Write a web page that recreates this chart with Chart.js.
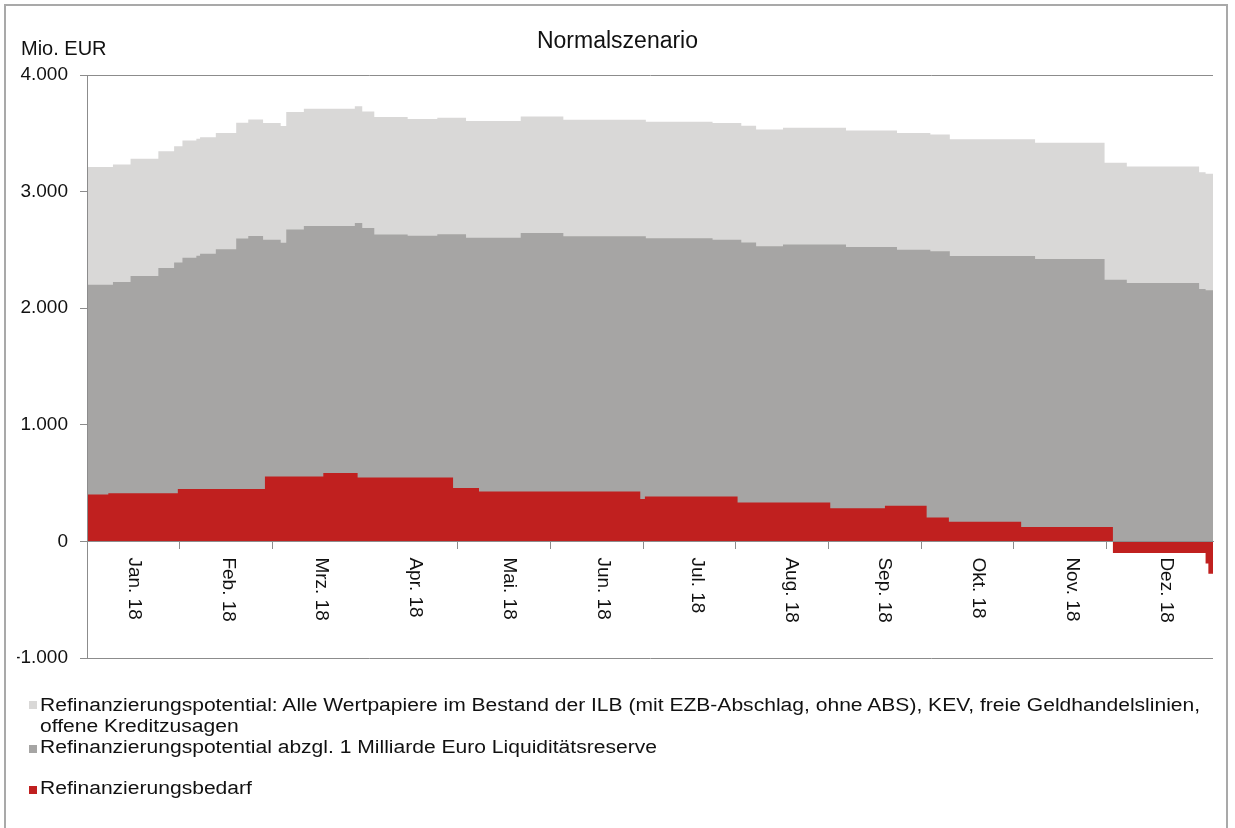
<!DOCTYPE html>
<html lang="de">
<head>
<meta charset="utf-8">
<title>Normalszenario</title>
<script src="https://cdn.jsdelivr.net/npm/chart.js"></script>
<style>
  body { margin: 0; background: #fff; font-family: "Liberation Sans", Arial, sans-serif; color: #111; }
  #wrap { position: relative; width: 1235px; height: 828px; overflow: hidden; background: #fff; }
  #frame { position: absolute; left: 4px; top: 4px; width: 1220px; height: 900px; border: 2px solid #a9a9a9; }
  #chart { position: absolute; left: 0; top: 0; }
  .title { position: absolute; left: 0; top: 29px; width: 1235px; text-align: center; font-size: 23px; line-height: 23px; }
  .unit { position: absolute; left: 21px; top: 38px; font-size: 20px; line-height: 20px; }
  .legend-item { position: absolute; left: 40px; font-size: 18px; line-height: 21px; white-space: nowrap;
                 transform: scaleX(1.17); transform-origin: 0 0; }
  .swatch { position: absolute; left: 29px; width: 8px; height: 8px; }
</style>
</head>
<body>
<div id="wrap">
  <div id="frame"></div>
  <canvas id="chart" width="1235" height="828"></canvas>
  <div class="title">Normalszenario</div>
  <div class="unit">Mio. EUR</div>

  <div class="swatch" style="top:701px;background:#d9d8d7"></div>
  <div class="legend-item" style="top:695px">Refinanzierungspotential: Alle Wertpapiere im Bestand der ILB (mit EZB-Abschlag, ohne ABS), KEV, freie Geldhandelslinien,<br>offene Kreditzusagen</div>
  <div class="swatch" style="top:745px;background:#a6a5a4"></div>
  <div class="legend-item" style="top:737px">Refinanzierungspotential abzgl. 1 Milliarde Euro Liquiditätsreserve</div>
  <div class="swatch" style="top:786px;background:#c0201f"></div>
  <div class="legend-item" style="top:778px">Refinanzierungsbedarf</div>
</div>

<script>
// Monatsachse
const months = ['Jan. 18', 'Feb. 18', 'Mrz. 18', 'Apr. 18', 'Mai. 18', 'Jun. 18',
                'Jul. 18', 'Aug. 18', 'Sep. 18', 'Okt. 18', 'Nov. 18', 'Dez. 18'];
const monthTicks = [1, 2, 4, 5, 6, 7, 8, 9, 10, 11, 12];

// Stützstellen in Monaten ab 1. Januar (Treppenverlauf)
const potentialX = [0.00, 0.28, 0.47, 0.77, 0.94, 1.03, 1.18, 1.22, 1.39, 1.61, 1.74, 1.90,
                    2.09, 2.15, 2.34, 2.89, 2.97, 3.10, 3.46, 3.78, 4.09, 4.68, 5.14, 6.03,
                    6.75, 7.06, 7.22, 7.51, 8.19, 8.74, 9.10, 9.31, 10.23, 10.98, 11.22, 12.00,
                    12.07, 12.15];
// Refinanzierungspotential gesamt
const potentialY = [3210, 3233, 3282, 3345, 3390, 3439, 3454, 3467, 3502, 3590, 3619, 3588,
                    3562, 3682, 3711, 3731, 3688, 3639, 3622, 3634, 3605, 3645, 3617, 3600,
                    3588, 3565, 3533, 3548, 3525, 3502, 3490, 3448, 3419, 3248, 3216, 3167,
                    3153, 3153];
// abzgl. Liquiditätsreserve
const reserveY = [2201, 2224, 2276, 2344, 2392, 2433, 2450, 2467, 2505, 2598, 2619, 2588,
                  2562, 2676, 2706, 2730, 2688, 2633, 2622, 2634, 2605, 2645, 2617, 2599,
                  2586, 2564, 2532, 2547, 2525, 2501, 2489, 2447, 2422, 2245, 2216, 2165,
                  2153, 2153];

// Refinanzierungsbedarf
const bedarfX = [0.00, 0.23, 0.98, 1.92, 2.55, 2.92, 3.95, 4.23, 5.97, 6.02, 7.02, 8.02,
                 8.61, 9.06, 9.30, 10.08, 11.07, 12.07, 12.10, 12.15];
const bedarfY = [403, 414, 449, 557, 586, 549, 457, 429, 363, 386, 334, 284,
                 306, 206, 169, 123, -100, -190, -277, -277];

const FONT = '"Liberation Sans", Arial, sans-serif';
const AXIS = '#8c8c8c';

function toPoints(xs, ys) {
  return xs.map((x, i) => ({ x: x, y: ys[i] }));
}

// deutsches Tausendertrennzeichen
function fmt(v) {
  const s = String(Math.abs(v)).replace(/\B(?=(\d{3})+(?!\d))/g, '.');
  return v < 0 ? '-' + s : s;
}

// Monatsnamen senkrecht unter der Nulllinie
const monthLabels = {
  id: 'monthLabels',
  afterDraw(chart) {
    const scale = chart.scales.xm;
    const y0 = chart.scales.y.getPixelForValue(0);
    const ctx = chart.ctx;
    ctx.save();
    ctx.font = '19px ' + FONT;
    ctx.fillStyle = '#111';
    ctx.textAlign = 'left';
    ctx.textBaseline = 'middle';
    months.forEach((m, i) => {
      ctx.save();
      ctx.translate(scale.getPixelForValue(i), y0 + 16);
      ctx.rotate(Math.PI / 2);
      ctx.fillText(m, 0, 0);
      ctx.restore();
    });
    ctx.restore();
  }
};

const ctx = document.getElementById('chart').getContext('2d');
new Chart(ctx, {
  type: 'line',
  data: {
    datasets: [
      {
        label: 'Refinanzierungsbedarf',
        data: toPoints(bedarfX, bedarfY),
        backgroundColor: '#c0201f',
        borderColor: 'rgba(0,0,0,0)',
        borderWidth: 0,
        fill: 'origin',
        stepped: true,
        pointRadius: 0,
        order: 1
      },
      {
        label: 'Refinanzierungspotential abzgl. 1 Milliarde Euro Liquiditätsreserve',
        data: toPoints(potentialX, reserveY),
        backgroundColor: '#a6a5a4',
        borderColor: 'rgba(0,0,0,0)',
        borderWidth: 0,
        fill: 'origin',
        stepped: true,
        pointRadius: 0,
        order: 2
      },
      {
        label: 'Refinanzierungspotential',
        data: toPoints(potentialX, potentialY),
        backgroundColor: '#d9d8d7',
        borderColor: 'rgba(0,0,0,0)',
        borderWidth: 0,
        fill: 'origin',
        stepped: true,
        pointRadius: 0,
        order: 3
      }
    ]
  },
  options: {
    responsive: false,
    animation: false,
    layout: { padding: { left: 17, right: 22, top: 75, bottom: 170 } },
    plugins: {
      legend: { display: false },
      tooltip: { enabled: false },
      title: { display: false }
    },
    scales: {
      x: {
        type: 'linear',
        min: 0,
        max: 12.15,
        position: { y: 0 },
        afterBuildTicks: s => { s.ticks = monthTicks.map(v => ({ value: v })); },
        ticks: { display: false },
        grid: { drawOnChartArea: false, drawTicks: true, tickLength: 7, color: AXIS },
        border: { display: true, color: AXIS, z: 1 }
      },
      xm: {
        type: 'category',
        axis: 'x',
        labels: months,
        offset: true,
        position: { y: 0 },
        ticks: { display: false },
        grid: { display: false },
        border: { display: false }
      },
      y: {
        min: -1000,
        max: 4000,
        afterFit: s => { s.width = 70; },
        ticks: {
          stepSize: 1000,
          padding: 12,
          color: '#111',
          font: { family: FONT, size: 19 },
          callback: v => fmt(v)
        },
        grid: {
          color: c => (c.tick && (c.tick.value === 4000 || c.tick.value === -1000)) ? AXIS : 'rgba(0,0,0,0)',
          tickColor: AXIS,
          tickLength: 7
        },
        border: { color: AXIS, z: 1 }
      }
    }
  },
  plugins: [monthLabels]
});
</script>
</body>
</html>
